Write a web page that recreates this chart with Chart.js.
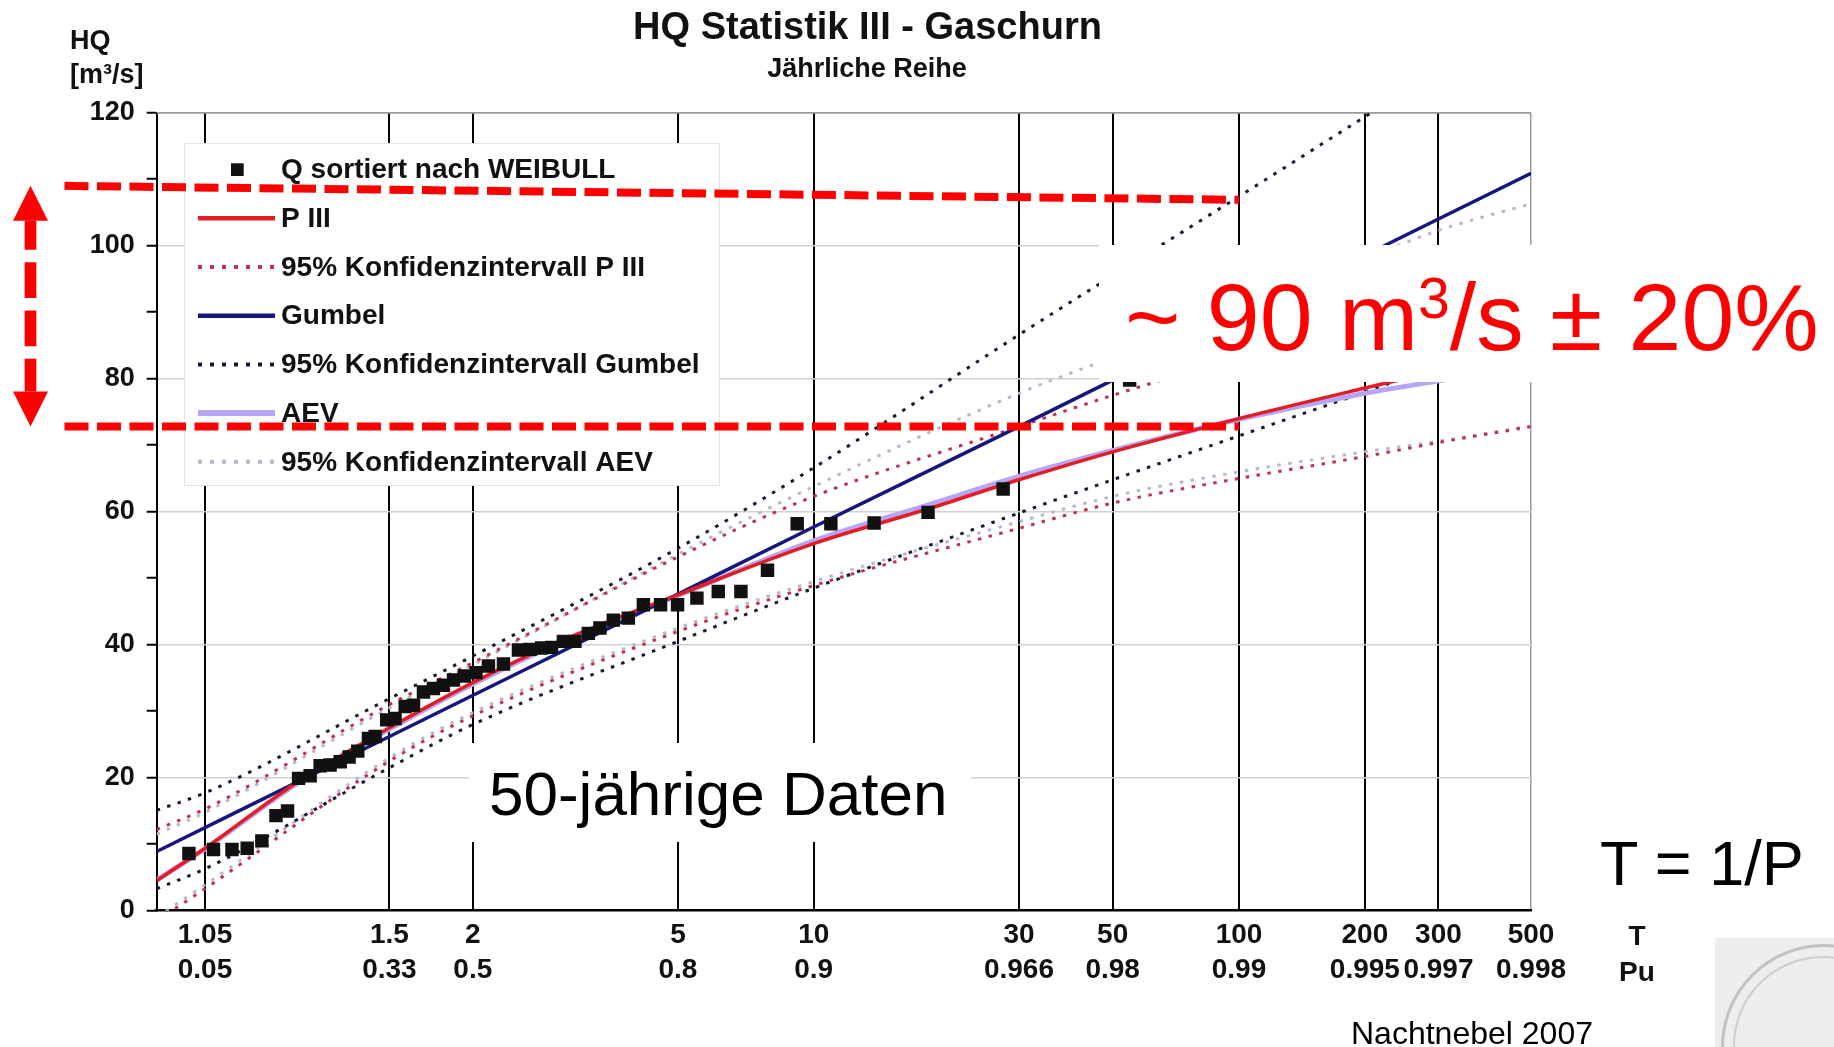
<!DOCTYPE html>
<html>
<head>
<meta charset="utf-8">
<script src="https://cdn.jsdelivr.net/npm/chart.js@4.4.1/dist/chart.umd.min.js"></script>
<style>
  body { margin: 0; background: #fff; }
  #wrap { position: relative; width: 1834px; height: 1047px; overflow: hidden; font-family: "Liberation Sans", Arial, sans-serif; }
  #wrap canvas { position: absolute; left: 0; top: 0; }
  .t { position: absolute; white-space: nowrap; line-height: 1; color: #111; }
  .box { position: absolute; background: #fff; }
</style>
</head>
<body>
<div id="wrap">
  <canvas id="c" width="1834" height="1047"></canvas>

  <div class="t" style="left:0;width:1735px;text-align:center;top:7px;font-size:38px;font-weight:bold">HQ Statistik III - Gaschurn</div>
  <div class="t" style="left:0;width:1734px;text-align:center;top:55px;font-size:27px;font-weight:bold">Jährliche Reihe</div>
  <div class="t" style="left:70px;top:27px;font-size:27px;font-weight:bold">HQ</div>
  <div class="t" style="left:70px;top:61px;font-size:27px;font-weight:bold">[m³/s]</div>
  <div class="t" style="left:1600px;width:74px;text-align:center;top:922px;font-size:28px;font-weight:bold">T</div>
  <div class="t" style="left:1600px;width:74px;text-align:center;top:958px;font-size:28px;font-weight:bold">Pu</div>

  <div class="box" style="left:1099px;top:245px;width:735px;height:137px"></div>
  <div class="t" style="left:1125px;top:270px;font-size:95px;color:#ff0000">~ 90 m<span style="font-size:57px;position:relative;top:-32px">3</span>/s ± 20%</div>

  <div class="box" style="left:469px;top:743px;width:502px;height:99px"></div>
  <div class="t" style="left:489px;top:763px;font-size:62px;color:#000">50-jährige Daten</div>

  <div class="t" style="left:1600px;top:832px;font-size:63px;color:#000">T = 1/P</div>
  <div class="t" style="left:1351px;top:1017px;font-size:32px;color:#000">Nachtnebel 2007</div>

  <div style="position:absolute;left:1715px;top:938px;width:119px;height:109px;background:#ededed;overflow:hidden">
    <div style="position:absolute;left:6px;top:6px;width:200px;height:200px;border-radius:50%;border:3px solid #c2c2c2"></div>
    <div style="position:absolute;left:18px;top:18px;width:176px;height:176px;border-radius:50%;border:2px solid #cecece"></div>
  </div>
</div>

<script>
// x axis: return period T and non-exceedance probability Pu
const returnPeriods = ['1.05', '1.5', '2', '5', '10', '30', '50', '100', '200', '300', '500']
const probLabels = ['0.05', '0.33', '0.5', '0.8', '0.9', '0.966', '0.98', '0.99', '0.995', '0.997', '0.998']
// gumbel reduced variate y = -ln(-ln(1 - 1/T))
const reduced = t => -Math.log(-Math.log(1 - 1 / t))
const tickY = returnPeriods.map(t => reduced(Number(t)))
const xMin = -1.38
const xMax = tickY[tickY.length - 1]

// annual maxima, Weibull plotting positions (reduced variate) and HQ in m3/s
const weibullY = [-1.202, -1.066, -0.964, -0.880, -0.799, -0.721, -0.657, -0.596, -0.532, -0.477,
  -0.422, -0.366, -0.317, -0.269, -0.210, -0.173, -0.109, -0.063, -0.007, 0.039,
  0.094, 0.149, 0.204, 0.260, 0.320, 0.384, 0.453, 0.536, 0.619, 0.683,
  0.747, 0.802, 0.867, 0.931, 1.005, 1.069, 1.143, 1.226, 1.309, 1.404,
  1.498, 1.605, 1.723, 1.848, 1.995, 2.159, 2.345, 2.584, 2.882, 3.297, 3.996]
const weibullQ = [8.6, 9.2, 9.2, 9.4, 10.5, 14.3, 15.0, 19.9, 20.3, 21.8,
  21.9, 22.4, 23.1, 24.0, 25.9, 26.2, 28.7, 28.9, 30.7, 30.9,
  32.9, 33.4, 33.9, 34.7, 35.3, 35.8, 36.8, 37.1, 39.2, 39.3,
  39.5, 39.6, 40.5, 40.5, 41.7, 42.5, 43.7, 44.0, 46.0, 46.0,
  46.0, 47.0, 48.0, 48.0, 51.2, 58.2, 58.2, 58.3, 59.9, 63.4, 79.8]

// fitted distributions
const gumbelY = [-1.38, -0.094, 1.5, 2.25, 3.384, 4.6, 6.214]
const gumbelQ = [8.9, 26.2, 47.6, 57.7, 72.8, 89.2, 110.9]
const p3Y = [-1.38, -1.097, -0.6, -0.094, 0.367, 0.858, 1.5, 2.25, 2.88, 3.384, 3.902, 4.6, 5.296, 5.702, 6.214]
const p3Q = [4.5, 9.7, 19.4, 27.5, 34.3, 40.6, 47.5, 55.2, 60.4, 64.8, 69.0, 74.0, 78.6, 81.2, 84.3]
const aevY = [-1.38, -1.097, -0.6, -0.094, 0.367, 0.858, 1.5, 2.25, 2.88, 3.384, 3.902, 4.28, 4.6, 5.296, 5.75, 6.214]
const aevQ = [4.6, 9.6, 19.2, 27.3, 34.1, 40.4, 47.4, 55.6, 61.0, 65.3, 69.2, 71.8, 73.9, 77.8, 79.9, 82.3]

// 95% confidence bands
const ciY = [-1.38, -1.097, -0.094, 0.367, 1.5, 2.25, 3.384, 3.902, 4.6, 5.296, 5.702, 6.214]
const gumbelUp = [15.1, 17.9, 31.9, 38.3, 54.5, 66.6, 86.6, 95.5, 107.4, 119.4, 126.4, 135.2]
const gumbelLow = [3.3, 6.5, 21.5, 28.0, 40.5, 48.5, 59.8, 64.8, 71.4, 78.0, 81.9, 86.9]
const p3Up = [12.2, 15.5, 31.0, 37.3, 53.2, 62.3, 72.8, 77.5, 83.3, 89.0, 92.0, 95.8]
const p3Low = [-1.5, 3.6, 22.5, 29.3, 42.0, 48.9, 57.5, 61.3, 65.0, 68.3, 70.4, 72.8]
const aevUp = [11.5, 15.0, 30.5, 37.0, 53.6, 63.8, 77.8, 83.2, 90.6, 98.0, 102.3, 106.3]
const aevLow = [-1.0, 4.2, 23.0, 29.8, 42.5, 49.5, 58.5, 62.3, 66.0, 69.0, 70.6, 72.9]

// red annotation: range read at T = 100
const bandT = 100
const bandTop = [109.0, 106.9]
const bandLow = 72.8

const pts = (xs, ys) => xs.map((x, i) => ({x: x, y: ys[i]}))

function curve(label, xs, ys, color, width, dash) {
  return {
    label: label,
    data: pts(xs, ys),
    showLine: true,
    borderColor: color,
    backgroundColor: color,
    borderWidth: width,
    borderDash: dash || [],
    pointRadius: 0,
    cubicInterpolationMode: 'monotone'
  }
}

const dotted = [3.5, 7.5]
const datasets = [
  {label: 'Q sortiert nach WEIBULL', data: pts(weibullY, weibullQ), pointStyle: 'rect', pointRadius: 9.5,
    backgroundColor: '#111', borderWidth: 0},
  curve('P III', p3Y, p3Q, 'rgb(228, 28, 36)', 3.5),
  curve('Gumbel', gumbelY, gumbelQ, 'rgb(22, 22, 128)', 3.5),
  curve('AEV', aevY, aevQ, 'rgb(184, 164, 244)', 5),
  curve('95% Konfidenzintervall P III', ciY, p3Up, 'rgb(190, 50, 84)', 3, dotted),
  curve('95% Konfidenzintervall P III', ciY, p3Low, 'rgb(190, 50, 84)', 3, dotted),
  curve('95% Konfidenzintervall Gumbel', ciY, gumbelUp, 'rgb(24, 24, 52)', 3, dotted),
  curve('95% Konfidenzintervall Gumbel', ciY, gumbelLow, 'rgb(24, 24, 52)', 3, dotted),
  curve('95% Konfidenzintervall AEV', ciY, aevUp, 'rgb(190, 182, 206)', 3, dotted),
  curve('95% Konfidenzintervall AEV', ciY, aevLow, 'rgb(190, 182, 206)', 3, dotted)
]
const legendRows = [0, 1, 4, 2, 6, 3, 8]

function seg(c, x1, y1, x2, y2) {
  c.beginPath(); c.moveTo(x1, y1); c.lineTo(x2, y2); c.stroke()
}

const overlay = {
  id: 'overlay',
  beforeDatasetsDraw: function(chart) {
    const c = chart.ctx, a = chart.chartArea
    c.save()
    c.strokeStyle = '#9a9a9a'
    c.lineWidth = 1.5
    seg(c, a.left, a.top, a.right, a.top)

    // legend panel
    c.fillStyle = '#fff'
    c.fillRect(184, 143, 535, 342)
    c.strokeStyle = '#e6e6e6'
    c.lineWidth = 1
    c.strokeRect(184.5, 143.5, 535, 342)
    c.font = 'bold 28px "Liberation Sans", Arial, sans-serif'
    c.textBaseline = 'middle'
    legendRows.forEach(function(idx, i) {
      const ds = chart.data.datasets[idx]
      const y = 169.6 + i * 48.7
      if (ds.pointStyle === 'rect') {
        c.fillStyle = ds.backgroundColor
        c.fillRect(231, y - 6.3, 12.7, 12.7)
      } else {
        c.strokeStyle = ds.borderColor
        c.lineWidth = ds.borderWidth + 1
        c.setLineDash(ds.borderDash.length ? [4, 8] : [])
        seg(c, 198, y, 275, y)
        c.setLineDash([])
      }
      c.fillStyle = '#111'
      c.fillText(ds.label, 281, y + 1)
    })
    c.restore()
  },
  afterDraw: function(chart) {
    const c = chart.ctx
    const xs = chart.scales.x, ys = chart.scales.y
    const xEnd = xs.getPixelForValue(reduced(bandT))
    const yA = ys.getPixelForValue(bandTop[0])
    const yA2 = ys.getPixelForValue(bandTop[1])
    const yB = ys.getPixelForValue(bandLow)
    c.save()
    c.strokeStyle = '#ff0000'
    c.fillStyle = '#ff0000'
    c.lineWidth = 8
    c.setLineDash([24, 8.5])
    seg(c, 64.5, yA, xEnd, yA2)
    seg(c, 64.5, yB, xEnd, yB)

    // double arrow
    const ax = 30.5, head = 35, half = 17.5
    c.lineWidth = 11.7
    c.setLineDash([35.7, 12.5])
    c.lineDashOffset = 6.7
    seg(c, ax, yA + head, ax, yB - head)
    c.setLineDash([])
    c.beginPath()
    c.moveTo(ax, yA); c.lineTo(ax + half, yA + head); c.lineTo(ax - half, yA + head); c.closePath()
    c.fill()
    c.beginPath()
    c.moveTo(ax, yB); c.lineTo(ax + half, yB - head); c.lineTo(ax - half, yB - head); c.closePath()
    c.fill()
    c.restore()
  }
}

Chart.defaults.font.family = '"Liberation Sans", Arial, sans-serif'
Chart.defaults.font.weight = 'bold'
Chart.defaults.color = '#111'

var chart = new Chart(document.getElementById('c'), {
  type: 'scatter',
  data: {datasets: datasets},
  options: {
    responsive: false,
    animation: false,
    devicePixelRatio: 1,
    layout: {padding: {left: 0, top: 112.7, right: 303, bottom: 0}},
    plugins: {
      legend: {display: false},
      tooltip: {enabled: false}
    },
    scales: {
      x: {
        type: 'linear',
        min: xMin,
        max: xMax,
        afterBuildTicks: function(scale) {
          scale.ticks = tickY.map(v => ({value: v}))
        },
        afterFit: function(scale) { scale.height = 136.3 },
        grid: {
          drawTicks: false,
          color: ctx => ctx.index === tickY.length - 1 ? '#9a9a9a' : '#000',
          lineWidth: ctx => ctx.index === tickY.length - 1 ? 1.5 : 2
        },
        border: {color: '#000', width: 2.5},
        ticks: {
          autoSkip: false,
          maxRotation: 0,
          minRotation: 0,
          padding: 7.5,
          font: {size: 28, weight: 'bold', lineHeight: 1.25},
          callback: (v, i) => [returnPeriods[i], probLabels[i]]
        }
      },
      y: {
        min: 0,
        max: 120,
        afterFit: function(scale) { scale.width = 156.7 },
        grid: {
          color: ctx => {
            const v = ctx.tick.value
            if (v === 120) return '#9a9a9a'
            return v > 0 && v % 20 === 0 ? '#d0d0d0' : 'rgba(0,0,0,0)'
          },
          lineWidth: 1.5,
          tickColor: '#000',
          tickWidth: 2,
          tickLength: 10
        },
        border: {color: '#000', width: 2},
        ticks: {
          stepSize: 10,
          padding: 12,
          font: {size: 27, weight: 'bold'},
          callback: v => v % 20 === 0 ? v : ''
        }
      }
    }
  },
  plugins: [overlay]
})
</script>
</body>
</html>
